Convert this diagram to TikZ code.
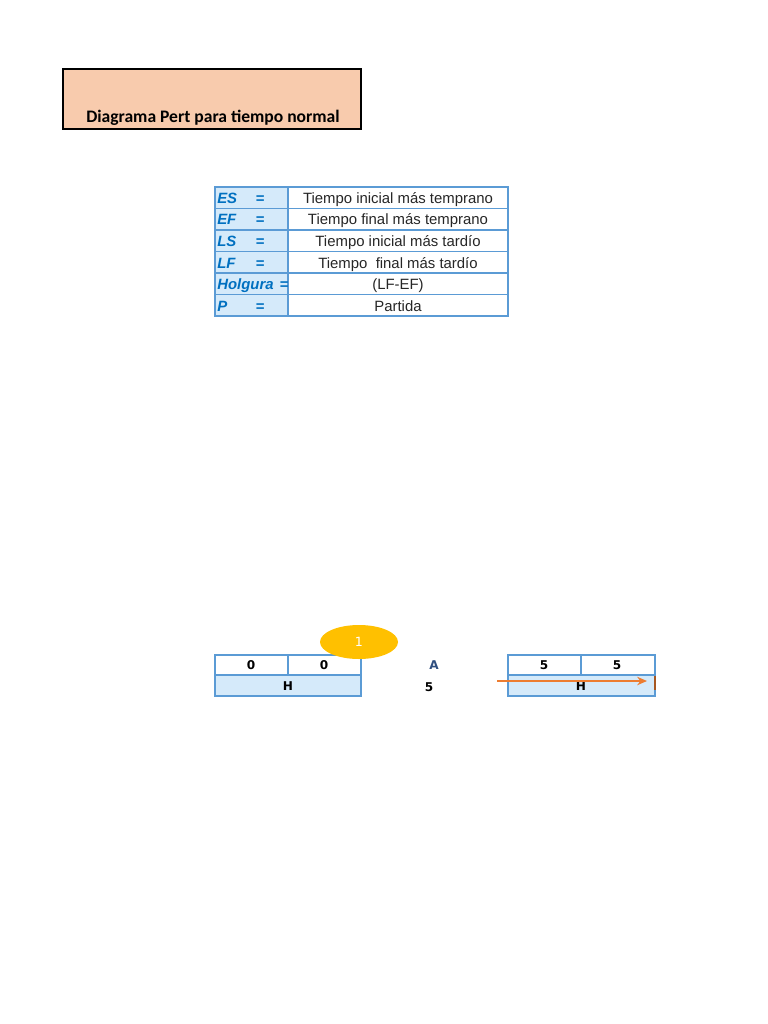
\documentclass[tikz,border=0pt]{standalone}
\usepackage{fontspec}
\setmainfont{Liberation Sans}
\newfontfamily\titlefont{Carlito}
\newfontfamily\cellfont{DejaVu Sans}
\usepackage{xcolor}
\usetikzlibrary{shapes.geometric, arrows.meta, positioning}
\definecolor{peach}{HTML}{F8CBAD}
\definecolor{cellblue}{HTML}{5B9BD5}
\definecolor{cellfill}{HTML}{D5EAFA}
\definecolor{keyblue}{HTML}{0070C0}
\definecolor{actblue}{HTML}{2F4F7F}
\definecolor{nodegold}{HTML}{FFC000}
\definecolor{arrorange}{HTML}{ED7D31}
\tikzset{
  x=0.025cm, y=-0.025cm,                 % one unit = one pixel of the sheet
  keytxt/.style   = {font=\fontsize{10.6}{12}\selectfont\bfseries\itshape,
                     text=keyblue, inner sep=0pt, anchor=base},
  deftxt/.style   = {font=\fontsize{10.6}{12}\selectfont, text=black!85,
                     inner sep=0pt, anchor=base},
  cell/.style     = {draw=cellblue, line width=1.2pt},
  numtxt/.style   = {font=\cellfont\fontsize{8.6}{10}\selectfont\bfseries,
                     inner sep=0pt, anchor=base},
  event/.style    = {ellipse, fill=nodegold, minimum width=78*0.025cm,
                     minimum height=34*0.025cm, inner sep=0pt,
                     text=white, font=\cellfont\fontsize{9}{10}\selectfont},
  arrow/.style    = {-{Stealth[length=7pt,width=6pt]}, arrorange, line width=1pt}
}
\begin{document}
\begin{tikzpicture}
  \useasboundingbox (0,0) rectangle (768,1024);
  % title
  \draw[fill=peach, line width=1.5pt] (63,69) rectangle (361,129);
  \node[font=\titlefont\fontsize{12.5}{14}\selectfont\bfseries, anchor=base]
    (title) at (213,122.5) {Diagrama Pert para tiempo normal};
  % legend table
  \filldraw[cell, fill=cellfill] (215,187) rectangle (288,316);
  \filldraw[cell, fill=white] (288,187) rectangle (508,316);
  \foreach \y in {208.5,230,251.5,273,294.5}
    \draw[cell] (215,\y) -- (508,\y);
  \node[keytxt, anchor=base west] (kES) at (217,203.5) {ES};
  \node[keytxt] (eES) at (260,203.5) {=};
  \node[deftxt] (dES) at (398,203.5) {Tiempo inicial más temprano};
  \node[keytxt, anchor=base west] (kEF) at (217,225) {EF};
  \node[keytxt] (eEF) at (260,225) {=};
  \node[deftxt] (dEF) at (398,225) {Tiempo final más temprano};
  \node[keytxt, anchor=base west] (kLS) at (217,246.5) {LS};
  \node[keytxt] (eLS) at (260,246.5) {=};
  \node[deftxt] (dLS) at (398,246.5) {Tiempo inicial más tardío};
  \node[keytxt, anchor=base west] (kLF) at (217,268) {LF};
  \node[keytxt] (eLF) at (260,268) {=};
  \node[deftxt] (dLF) at (398,268) {Tiempo\ \ final más tardío};
  \node[keytxt, anchor=base west] (kH) at (217,289.5) {Holgura};
  \node[keytxt] (eH) at (284,289.5) {=};
  \node[deftxt] (dH) at (398,289.5) {(LF-EF)};
  \node[keytxt, anchor=base west] (kP) at (217,311) {P};
  \node[keytxt] (eP) at (260,311) {=};
  \node[deftxt] (dP) at (398,311) {Partida};
  % first activity box
  \filldraw[cell, fill=white] (215,655) rectangle (361,675);
  \filldraw[cell, fill=cellfill] (215,675) rectangle (361,696);
  \draw[cell] (288,655) -- (288,675);
  \node[numtxt] (es1) at (251,669.5) {0};
  \node[numtxt] (ef1) at (324,669.5) {0};
  \node[numtxt] (p1) at (288,690.5) {H};
  \node[event] (ev1) at (359,642) {1};
  % activity label
  \node[numtxt, text=actblue] (actA) at (434,669.5) {A};
  \node[numtxt] (durA) at (429,691.5) {5};
  % second activity box
  \filldraw[cell, fill=white] (508,655) rectangle (655,675);
  \filldraw[cell, fill=cellfill] (508,675) rectangle (655,696);
  \draw[cell] (581,655) -- (581,675);
  \node[numtxt] (es2) at (544,669.5) {5};
  \node[numtxt] (ef2) at (617,669.5) {5};
  \node[numtxt] (p2) at (581,690.5) {H};
  % arrow into the box
  \coordinate (arrS) at (497,681);
  \coordinate (arrE) at (647,681);
  \draw[arrow] (arrS) -- (arrE);
  \draw[arrorange!70!black, line width=1.4pt] (655,676) -- (655,690);
\end{tikzpicture}
\end{document}
